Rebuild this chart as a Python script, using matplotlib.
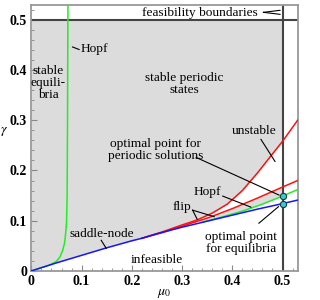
import numpy as np
import matplotlib
matplotlib.use("Agg")
from matplotlib import pyplot as plt

# curves (mu_0, gamma)
sn_mu = [0.0, 0.05, 0.10, 0.15, 0.20, 0.22, 0.25, 0.30, 0.35, 0.40, 0.45, 0.50, 0.53]
sn_g = [0.0, 0.016, 0.031, 0.046, 0.060, 0.065, 0.074, 0.087, 0.099, 0.111, 0.123, 0.134, 0.141]

hopf1_mu = [0.0, 0.02, 0.037, 0.05, 0.057, 0.062, 0.066, 0.068, 0.070, 0.0712, 0.072, 0.0728]
hopf1_g = [0.0, 0.0065, 0.012, 0.019, 0.028, 0.040, 0.055, 0.072, 0.095, 0.15, 0.30, 0.53]

hopf2_mu = [0.34, 0.38, 0.42, 0.46, 0.50, 0.53]
hopf2_g = [0.097, 0.1075, 0.119, 0.133, 0.149, 0.162]

flip_up_mu = [0.22, 0.26, 0.30, 0.33, 0.36, 0.39, 0.42, 0.45, 0.48, 0.50, 0.53]
flip_up_g = [0.065, 0.0775, 0.0915, 0.1015, 0.115, 0.133, 0.160, 0.195, 0.233, 0.258, 0.30]

flip_lo_mu = [0.22, 0.26, 0.30, 0.35, 0.40, 0.45, 0.50, 0.53]
flip_lo_g = [0.065, 0.076, 0.089, 0.105, 0.124, 0.145, 0.167, 0.180]

mu_max = 0.5
g_max = 0.5
opt_mu = [0.5, 0.5]
opt_g = [0.149, 0.1335]

plt.rcParams['font.family'] = ['Liberation Serif', 'DejaVu Serif']
plt.rcParams['mathtext.fontset'] = 'stix'

fig = plt.figure(figsize=(3.2, 3.0), dpi=100)
ax = fig.add_axes([0.098, 0.097, 0.832, 0.887])

# grey stable region
sn_mu_a = np.array(sn_mu)
sn_g_a = np.array(sn_g)
fu_mu_a = np.array(flip_up_mu)
fu_g_a = np.array(flip_up_g)
low_mu = np.concatenate([sn_mu_a[sn_mu_a < 0.22], fu_mu_a[fu_mu_a <= mu_max]])
low_g = np.concatenate([sn_g_a[sn_mu_a < 0.22], fu_g_a[fu_mu_a <= mu_max]])
ax.fill_between(low_mu, low_g, g_max, color='#dcdcdc', lw=0, zorder=0)

h2_mu = np.array(hopf2_mu)
h2_g = np.array(hopf2_g)
sel = h2_mu <= mu_max
ax.fill_between(h2_mu[sel], h2_g[sel], np.interp(h2_mu[sel], flip_lo_mu, flip_lo_g),
                color='#dcdcdc', lw=0, zorder=0)

ax.axhline(g_max, color='#444444', lw=1.5, zorder=2)
ax.axvline(mu_max, color='#444444', lw=1.5, zorder=2)

ax.plot(flip_up_mu, flip_up_g, color='#ff1010', lw=1.1, zorder=3)
ax.plot(flip_lo_mu, flip_lo_g, color='#ff1010', lw=1.1, zorder=3)
ax.plot(hopf1_mu, hopf1_g, color='#22ee22', lw=1.1, zorder=3)
ax.plot(hopf2_mu, hopf2_g, color='#22ee22', lw=1.1, zorder=3)
ax.plot(sn_mu, sn_g, color='#1515ff', lw=1.1, zorder=4)

ax.plot(opt_mu, opt_g, 'o', ms=4.5, mfc='#3cc8c8', mec='#1a3a3a', mew=0.8, zorder=5)

fs = 9.6
def lead(x0, y0, x1, y1):
    ax.plot([x0, x1], [y0, y1], color='k', lw=0.8, zorder=4)

ax.text(0.336, 0.514, 'feasibility boundaries', fontsize=fs, ha='center', va='center')
lead(0.462, 0.515, 0.495, 0.519)
lead(0.462, 0.515, 0.495, 0.511)

ax.text(0.098, 0.441, 'Hopf', fontsize=fs, ha='left', va='center')
lead(0.082, 0.446, 0.095, 0.441)

ax.text(0.034, 0.374, 'stable\nequili-\nbria', fontsize=fs, ha='center', va='center',
        linespacing=1.0)
ax.text(0.305, 0.372, 'stable periodic\nstates', fontsize=fs, ha='center', va='center',
        linespacing=1.0)

ax.text(0.443, 0.279, 'unstable', fontsize=fs, ha='center', va='center')
lead(0.457, 0.262, 0.485, 0.218)

ax.text(0.247, 0.241, 'optimal point for\nperiodic solutions', fontsize=fs,
        ha='center', va='center', linespacing=1.0)
lead(0.328, 0.226, 0.493, 0.151)

ax.text(0.35, 0.158, 'Hopf', fontsize=fs, ha='center', va='center')
lead(0.381, 0.149, 0.437, 0.127)

ax.text(0.299, 0.127, 'flip', fontsize=fs, ha='center', va='center')
lead(0.321, 0.121, 0.330, 0.103)
lead(0.321, 0.121, 0.364, 0.108)

ax.text(0.141, 0.073, 'saddle-node', fontsize=fs, ha='center', va='center')
lead(0.139, 0.061, 0.149, 0.045)

ax.text(0.249, 0.022, 'infeasible', fontsize=fs, ha='center', va='center')

ax.text(0.417, 0.055, 'optimal point\nfor equilibria', fontsize=fs, ha='center',
        va='center', linespacing=1.0)
lead(0.453, 0.095, 0.492, 0.128)

ax.set_xlim(0, 0.53)
ax.set_ylim(0, 0.53)
ax.set_xticks([0, 0.1, 0.2, 0.3, 0.4, 0.5])
ax.set_yticks([0, 0.1, 0.2, 0.3, 0.4, 0.5])
ax.set_xticklabels(['0', '0.1', '0.2', '0.3', '0.4', '0.5'])
ax.set_yticklabels(['0', '0.1', '0.2', '0.3', '0.4', '0.5'])
ax.set_xticks(np.arange(0, 0.53, 0.02), minor=True)
ax.set_yticks(np.arange(0, 0.53, 0.02), minor=True)
ax.tick_params(which='both', direction='in', color='#888888')
ax.tick_params(which='major', length=4, width=0.8, labelsize=10, pad=3)
ax.tick_params(which='minor', length=2, width=0.6)
for lab in ax.get_xticklabels() + ax.get_yticklabels():
    lab.set_fontweight('bold')
for s in ax.spines.values():
    s.set_color('#999999')
    s.set_linewidth(1.3)

ax.set_xlabel(r'$\mu_0$', fontsize=10, labelpad=-1)
ax.set_ylabel(r'$\gamma$', fontsize=10, rotation=0, labelpad=4)

fig.savefig('out.png', dpi=100)
